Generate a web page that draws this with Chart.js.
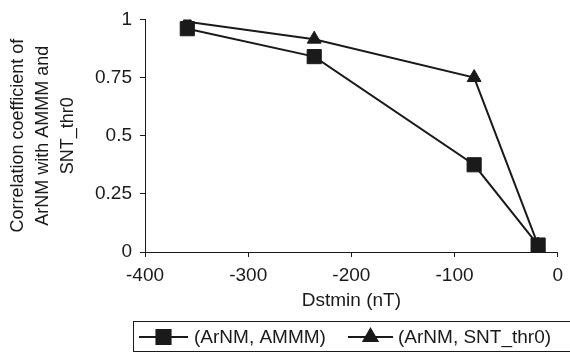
<!DOCTYPE html>
<html>
<head>
<meta charset="utf-8">
<script src="https://cdn.jsdelivr.net/npm/chart.js@4"></script>
<style>
  html,body{margin:0;padding:0;background:#fff;}
  #chart{display:block;}
</style>
</head>
<body>
<canvas id="chart" width="570" height="354"></canvas>
<script>
// Données
const dstmin=[-359,-236,-81,-19];
const corrAmmm=[0.96,0.84,0.375,0.03];
const corrSnt=[0.99,0.915,0.75,0.03];
const seriesLabels=["(ArNM, AMMM)","(ArNM, SNT_thr0)"];
const xTicks=[-400,-300,-200,-100,0];
const yTicks=[0,0.25,0.5,0.75,1];
const xTitle="Dstmin (nT)";
const yTitle=["Correlation coefficient of","ArNM with AMMM and","SNT_thr0"];

const ink="#1a1a1a";
const fam="'Liberation Sans', Arial, sans-serif";

// ---------- Légende encadrée ----------
const boxLegend={
  id:"boxLegend",
  afterDraw(chart){
    const ctx=chart.ctx;
    ctx.save();
    ctx.strokeStyle=ink; ctx.lineWidth=1;
    ctx.strokeRect(133.5,321.5,440,30);
    const cy=337;
    const items=[{x0:139,x1:188,tx:194},{x0:348,x1:393,tx:398}];
    chart.data.datasets.forEach((ds,i)=>{
      const it=items[i];
      ctx.strokeStyle=ds.borderColor; ctx.lineWidth=ds.borderWidth;
      ctx.beginPath(); ctx.moveTo(it.x0,cy); ctx.lineTo(it.x1,cy); ctx.stroke();
      ctx.fillStyle=ink; ctx.strokeStyle=ink;
      Chart.helpers.drawPoint(ctx,{pointStyle:ds.pointStyle,radius:ds.pointRadius,borderWidth:1},(it.x0+it.x1)/2,cy);
      ctx.fillStyle=ink; ctx.font="19px "+fam; ctx.textBaseline="middle"; ctx.textAlign="left";
      ctx.fillText(ds.label,it.tx,cy+1);
    });
    ctx.restore();
  }
};

const mkData=ys=>dstmin.map((x,i)=>({x:x,y:ys[i]}));

new Chart(document.getElementById("chart"),{
  type:"line",
  data:{datasets:[
    {label:seriesLabels[0],data:mkData(corrAmmm),borderColor:ink,backgroundColor:ink,borderWidth:2,
     pointStyle:"rect",pointRadius:10,pointBorderWidth:1,pointBackgroundColor:ink,pointBorderColor:ink,tension:0},
    {label:seriesLabels[1],data:mkData(corrSnt),borderColor:ink,backgroundColor:ink,borderWidth:2,
     pointStyle:"triangle",pointRadius:8,pointBorderWidth:1,pointBackgroundColor:ink,pointBorderColor:ink,tension:0}
  ]},
  options:{
    responsive:false,animation:false,
    layout:{padding:{top:14,right:6,bottom:42,left:0}},
    plugins:{legend:{display:false},tooltip:{enabled:false}},
    scales:{
      x:{type:"linear",min:-400,max:0,
        afterBuildTicks:s=>{s.ticks=xTicks.map(v=>({value:v}));},
        afterFit:s=>{s.height=60;},
        ticks:{padding:7,color:ink,font:{family:fam,size:19},callback:v=>String(v)},
        grid:{drawOnChartArea:false,tickLength:5,color:ink},
        border:{color:ink,width:1},
        title:{display:true,text:xTitle,color:ink,font:{family:fam,size:19},padding:{top:0,bottom:0}}
      },
      y:{type:"linear",min:0,max:1,
        afterBuildTicks:s=>{s.ticks=yTicks.map(v=>({value:v}));},
        afterFit:s=>{s.width=145;},
        ticks:{padding:8,color:ink,font:{family:fam,size:19},callback:v=>String(v)},
        grid:{drawOnChartArea:false,tickLength:5,color:ink},
        border:{color:ink,width:1},
        title:{display:true,text:yTitle,color:ink,font:{family:fam,size:18,lineHeight:1.4},padding:{top:5,bottom:0}}
      }
    }
  },
  plugins:[boxLegend]
});
</script>
</body>
</html>
